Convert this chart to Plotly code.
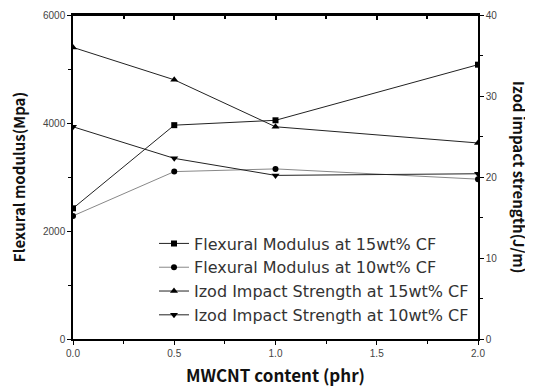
import plotly.graph_objects as go

mwcnt = [0.0, 0.5, 1.0, 2.0]
flex_15 = [2420, 3960, 4050, 5080]
flex_10 = [2280, 3100, 3150, 2960]
izod_15 = [36.0, 32.0, 26.2, 24.2]
izod_10 = [26.2, 22.3, 20.2, 20.4]

names = ["Flexural Modulus at 15wt% CF", "Flexural Modulus at 10wt% CF",
         "Izod Impact Strength at 15wt% CF", "Izod Impact Strength at 10wt% CF"]

fig = go.Figure()
fig.add_trace(go.Scatter(x=mwcnt, y=flex_15, name=names[0], mode="lines+markers", legendgroup="a",
                         line=dict(color="#222", width=1), marker=dict(symbol="square", size=6, color="black")))
fig.add_trace(go.Scatter(x=mwcnt, y=flex_10, name=names[1], mode="lines+markers", legendgroup="b",
                         line=dict(color="#888", width=1), marker=dict(symbol="circle", size=6, color="black")))
fig.add_trace(go.Scatter(x=mwcnt, y=izod_15, name=names[2], mode="lines+markers", yaxis="y2", legendgroup="c",
                         line=dict(color="#222", width=1), marker=dict(symbol="triangle-up", size=7, color="black")))
fig.add_trace(go.Scatter(x=mwcnt, y=izod_10, name=names[3], mode="lines+markers", yaxis="y2", legendgroup="d",
                         line=dict(color="#222", width=1), marker=dict(symbol="triangle-down", size=7, color="black")))
# invisible trace on top axis so the top axis (inward ticks) is drawn
fig.add_trace(go.Scatter(x=mwcnt, y=flex_15, xaxis="x2", mode="markers", marker=dict(opacity=0),
                         showlegend=False, hoverinfo="skip"))

tickfont = dict(family="Liberation Sans, Arial", size=10, color="#444")
titlefont = dict(family="Noto Sans CJK KR, Noto Sans", size=15, color="#111")

fig.update_layout(
    width=525, height=384,
    margin=dict(l=65, r=55, t=7, b=53),
    plot_bgcolor="white", paper_bgcolor="white",
    showlegend=True,
    legend=dict(x=0.2, y=0.02, xanchor="left", yanchor="bottom",
                bgcolor="rgba(0,0,0,0)", borderwidth=0,
                font=dict(family="DejaVu Sans", size=16, color="#333"),
                itemwidth=30, tracegroupgap=0),
    xaxis=dict(range=[0, 2], tickvals=[0, 0.5, 1.0, 1.5, 2.0], ticktext=["0.0", "0.5", "1.0", "1.5", "2.0"],
               ticks="outside", ticklen=4, tickcolor="black", showline=True, linecolor="black", linewidth=1.5,
               mirror=True, showgrid=False, zeroline=False, tickfont=tickfont, automargin=False,
               minor=dict(tickvals=[0.25, 0.75, 1.25, 1.75], ticks="outside", ticklen=3, tickcolor="black"),
               title=dict(text="<b>MWCNT content (phr)</b>", font=dict(family="Noto Sans CJK KR, Noto Sans", size=17, color="#111"), standoff=12)),
    yaxis=dict(range=[0, 6000], tickvals=[0, 2000, 4000, 6000],
               ticks="outside", ticklen=4, tickcolor="black", showline=True, linecolor="black", linewidth=1.5,
               showgrid=False, zeroline=False, tickfont=tickfont, automargin=False,
               minor=dict(tickvals=[1000, 3000, 5000], ticks="outside", ticklen=3, tickcolor="black"),
               title=dict(text="<b>Flexural modulus(Mpa)</b>", font=titlefont, standoff=25)),
    yaxis2=dict(range=[0, 40], tickvals=[0, 10, 20, 30, 40], overlaying="y", side="right",
                ticks="outside", ticklen=4, tickcolor="black", showline=True, linecolor="black", linewidth=1.5,
                showgrid=False, zeroline=False, tickfont=tickfont, automargin=False,
                minor=dict(tickvals=[5, 15, 25, 35], ticks="outside", ticklen=3, tickcolor="black")),
    xaxis2=dict(overlaying="x", side="top", anchor="y", matches="x", tickvals=[0, 0.5, 1.0, 1.5, 2.0],
                ticks="inside", ticklen=5, tickwidth=2, tickcolor="black", showticklabels=False,
                showline=False, automargin=False, showgrid=False, zeroline=False,
                minor=dict(tickvals=[0.25, 0.75, 1.25, 1.75], ticks="inside", ticklen=4, tickwidth=2, tickcolor="black")),
)

# top frame line
fig.add_shape(type="line", xref="paper", yref="paper", x0=0, x1=1, y0=1, y1=1,
              line=dict(color="black", width=2))

fig.add_annotation(text="<b>Izod impact strength(J/m)</b>", textangle=90, xref="paper", yref="paper",
                   x=1.0, xanchor="center", xshift=42, y=0.5, showarrow=False, font=titlefont)

fig.write_html("out.html")
